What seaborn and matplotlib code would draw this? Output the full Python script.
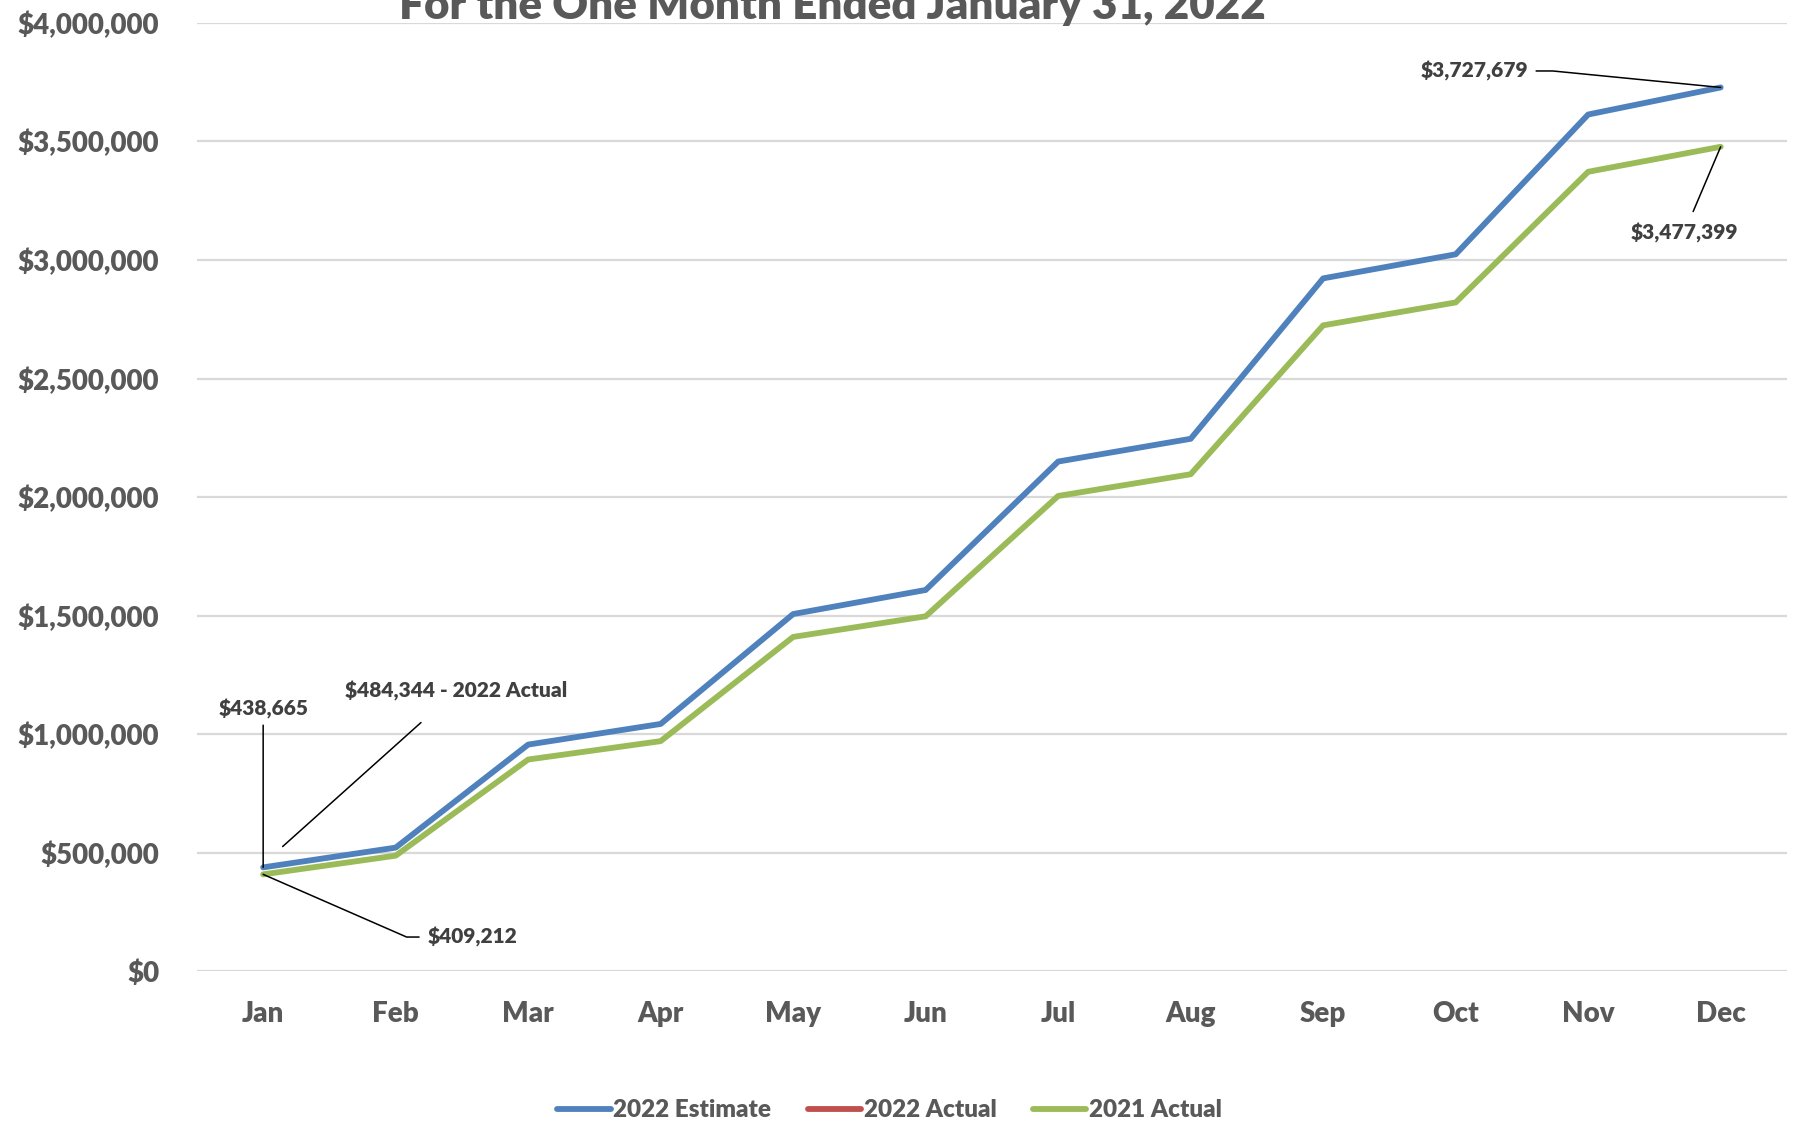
"""
Cumulative revenue chart: 2022 estimate vs actuals
"""

import pandas as pd
import numpy as np
import matplotlib
matplotlib.use("Agg")
import matplotlib.pyplot as plt
import seaborn as sns

# Data
months = ['Jan', 'Feb', 'Mar', 'Apr', 'May', 'Jun',
          'Jul', 'Aug', 'Sep', 'Oct', 'Nov', 'Dec']
est_2022 = [438665, 522000, 956500, 1043500, 1507000, 1608500,
            2150000, 2246000, 2922500, 3024000, 3613500, 3727679]
act_2022 = [484344] + [np.nan] * 11
act_2021 = [409212, 488000, 893500, 971000, 1410500, 1497500,
            2005000, 2096500, 2724500, 2821000, 3372000, 3477399]
series_names = ['2022 Estimate', '2022 Actual', '2021 Actual']
series_colors = ['#4F81BD', '#C0504D', '#9BBB59']
y_ticks = list(range(0, 4000001, 500000))
title = 'For the One Month Ended January 31, 2022'

# Set style
sns.set_style("white")
plt.rcParams['font.family'] = ['Lato', 'DejaVu Sans']
plt.rcParams['font.weight'] = 'bold'

gray = '#595959'
dark = '#404040'
heavy = 'heavy'

df = pd.DataFrame({
    'Month': months * 3,
    'Value': est_2022 + act_2022 + act_2021,
    'Series': [s for s in series_names for _ in months],
})

fig = plt.figure(figsize=(17.95, 11.26), dpi=100)
ax = fig.add_axes([0.1097, 0.1373, 0.8858, 0.8424])

sns.lineplot(data=df, x='Month', y='Value', hue='Series', hue_order=series_names,
             palette=series_colors, linewidth=4.2, sort=False, ax=ax,
             legend=False, solid_capstyle='round')

ax.set_xlim(-0.5, len(months) - 0.5)
ax.set_ylim(0, 4000000)
ax.set_yticks(y_ticks)
ax.set_yticklabels([f'${v:,.0f}' for v in y_ticks], fontweight=heavy)
ax.set_xticks(range(len(months)))
ax.set_xticklabels(months, fontweight=heavy)
ax.set_xlabel('')
ax.set_ylabel('')
ax.grid(axis='y', color='#D9D9D9', linewidth=1.6)
ax.set_axisbelow(True)
for s in ax.spines.values():
    s.set_visible(False)
ax.tick_params(axis='y', length=0, pad=27, labelsize=20, labelcolor=gray)
ax.tick_params(axis='x', length=0, pad=21, labelsize=20, labelcolor=gray)

# Annotations
lead = dict(arrowstyle='-', color='black', lw=1.1)
fs = 15
ax.annotate(f'${est_2022[0]:,}', xy=(0, est_2022[0]), xytext=(0, 1106000),
            ha='center', va='center', fontsize=fs, color=dark, fontweight=heavy,
            arrowprops=dict(lead, shrinkA=2, shrinkB=0))
ax.annotate(f'${act_2022[0]:,.0f} - 2022 Actual', xy=(0.147, 526500), xytext=(1.459, 1183600),
            ha='center', va='center', fontsize=fs, color=dark, fontweight=heavy,
            arrowprops=dict(lead, shrinkA=20, shrinkB=0))
ax.annotate(f'${act_2021[0]:,}', xy=(0, act_2021[0]), xytext=(1.2435, 144900),
            ha='left', va='center', fontsize=fs, color=dark, fontweight=heavy,
            arrowprops=dict(lead, shrinkA=4, shrinkB=0,
                            connectionstyle='angle,angleA=0,angleB=-23.6,rad=0'))
ax.annotate(f'${est_2022[-1]:,}', xy=(11, est_2022[-1]), xytext=(9.551, 3797100),
            ha='right', va='center', fontsize=fs, color=dark, fontweight=heavy,
            arrowprops=dict(lead, shrinkA=3, shrinkB=0,
                            connectionstyle='angle,angleA=0,angleB=174.4,rad=0'))
ax.annotate(f'${act_2021[-1]:,}', xy=(11, act_2021[-1]), xytext=(10.725, 3115900),
            ha='center', va='center', fontsize=fs, color=dark, fontweight=heavy,
            arrowprops=dict(lead, shrinkA=6, shrinkB=0))

# Title (top partially cut off, as in the source)
fig.text(0.4636, 0.9827, title, ha='center', va='baseline', fontsize=31.7,
         color=gray, fontweight=heavy)

# Legend
handles = [plt.Line2D([0], [0], color=c, lw=4.2, solid_capstyle='round') for c in series_colors]
fig.legend(handles, series_names, loc='lower center', bbox_to_anchor=(0.4955, -0.015),
           ncol=3, frameon=False, prop={'size': 17.5, 'weight': heavy},
           handlelength=2.2, handletextpad=0.1, columnspacing=1.5, labelcolor=gray)

plt.savefig('out.png', dpi=100)
plt.close()
